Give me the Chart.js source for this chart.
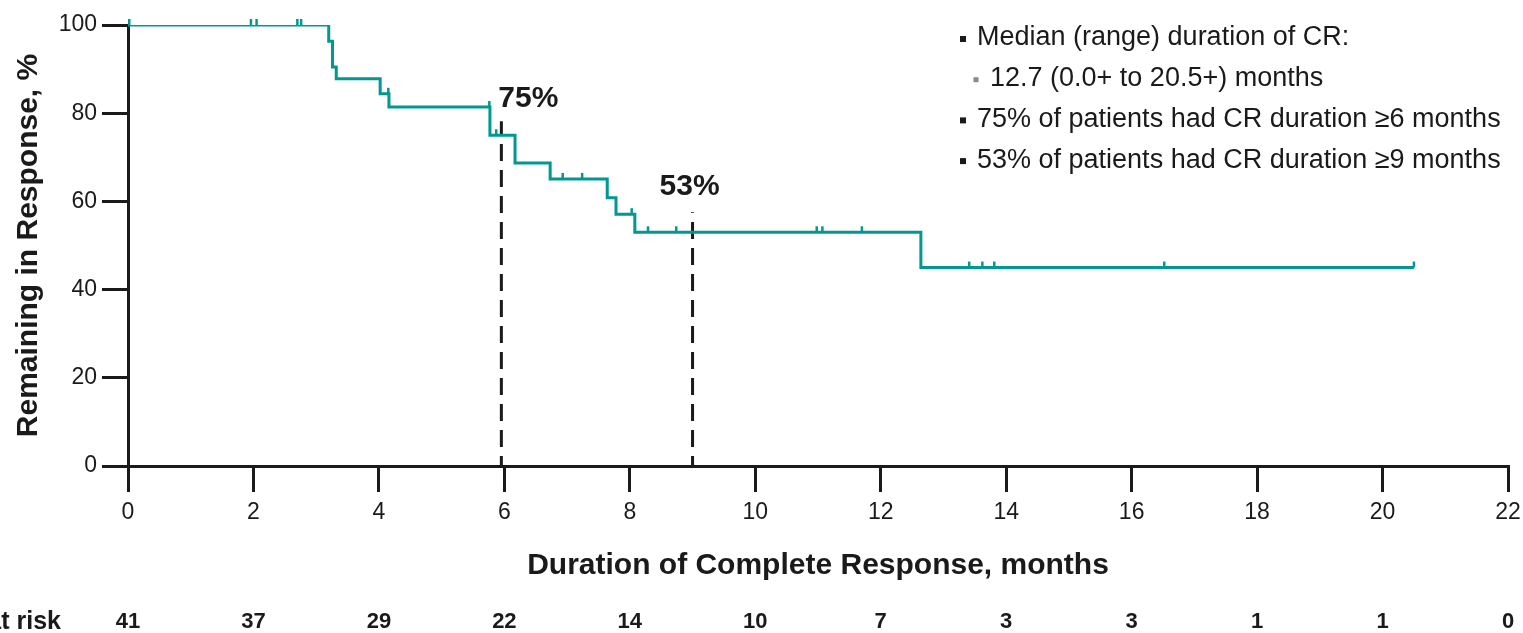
<!DOCTYPE html>
<html>
<head>
<meta charset="utf-8">
<title>Duration of Complete Response</title>
<script src="https://cdn.jsdelivr.net/npm/chart.js@4.4.1/dist/chart.umd.min.js"></script>
<style>
  html, body { margin: 0; padding: 0; background: #ffffff; }
  #km { display: block; }
</style>
</head>
<body>
<canvas id="km" width="1523" height="633"></canvas>
<script>
// Kaplan–Meier curve: time (months) at which the estimate changes, and % still in response
const stepTimes    = [0, 3.20, 3.26, 3.32, 4.02, 4.16, 5.77, 6.17, 6.73, 7.64, 7.78, 8.08, 12.64, 20.5];
const remainingPct = [100, 96.3, 90.5, 87.8, 84.4, 81.4, 75, 68.7, 65.1, 60.8, 57.1, 53, 45, 45];

// Censored observations (months)
const censorTimes = [0.02, 1.96, 2.05, 2.70, 2.76, 4.15, 5.76, 5.87, 6.93, 7.24, 8.03, 8.29, 8.74,
                     10.98, 11.07, 11.70, 13.41, 13.62, 13.81, 16.52, 20.5];

// Axis ticks and the number-at-risk row under each x tick
const xTickValues = [0, 2, 4, 6, 8, 10, 12, 14, 16, 18, 20, 22];
const yTickValues = [0, 20, 40, 60, 80, 100];
const atRisk      = [41, 37, 29, 22, 14, 10, 7, 3, 3, 1, 1, 0];

// Landmark estimates highlighted with dashed drop lines
const milestoneMonths = [6, 9];
const milestonePct    = [75, 53];

// Summary statistics block (second line is a sub-bullet)
const summaryLines  = [
  'Median (range) duration of CR:',
  '12.7 (0.0+ to 20.5+) months',
  '75% of patients had CR duration \u22656 months',
  '53% of patients had CR duration \u22659 months'
];
const summaryIndent = [0, 1, 0, 0];

const FONT = "'Liberation Sans', Arial, Helvetica, sans-serif";
const INK  = '#1a1a1a';
const TEAL = '#009891';

function levelAt(t) {
  let v = remainingPct[0];
  for (let i = 0; i < stepTimes.length; i++) {
    if (stepTimes[i] <= t) v = remainingPct[i];
  }
  return v;
}

// Small upward ticks marking censored patients on the curve
const censorMarks = {
  id: 'censorMarks',
  afterDatasetsDraw(chart, args, opts) {
    const { ctx, scales: { x, y } } = chart;
    ctx.save();
    ctx.strokeStyle = opts.color;
    ctx.lineWidth = opts.width;
    censorTimes.forEach(t => {
      const px = x.getPixelForValue(t);
      const py = y.getPixelForValue(levelAt(t));
      ctx.beginPath();
      ctx.moveTo(px, py);
      ctx.lineTo(px, py - opts.length);
      ctx.stroke();
    });
    ctx.restore();
  }
};

// Dashed vertical lines at the landmark months with their percentage labels
const milestones = {
  id: 'milestones',
  beforeDatasetsDraw(chart, args, opts) {
    const { ctx, scales: { x, y } } = chart;
    ctx.save();
    milestoneMonths.forEach((m, i) => {
      const px = x.getPixelForValue(m) + opts.lineDx[i];
      const pyVal = y.getPixelForValue(milestonePct[i]);
      ctx.strokeStyle = opts.color;
      ctx.lineWidth = opts.width;
      ctx.setLineDash(opts.dash);
      ctx.lineDashOffset = opts.dashOffset;
      ctx.beginPath();
      ctx.moveTo(px, y.getPixelForValue(0));
      ctx.lineTo(px, pyVal + opts.lineTop[i]);
      ctx.stroke();
    });
    ctx.restore();
  },
  afterDatasetsDraw(chart, args, opts) {
    const { ctx, scales: { x, y } } = chart;
    ctx.save();
    ctx.fillStyle = opts.color;
    ctx.font = opts.labelFont;
    ctx.textBaseline = 'middle';
    milestoneMonths.forEach((m, i) => {
      const lab = opts.labels[i];
      ctx.textAlign = lab.align;
      ctx.fillText(milestonePct[i] + '%', x.getPixelForValue(m) + lab.dx, y.getPixelForValue(milestonePct[i]) + lab.dy);
    });
    ctx.restore();
  }
};

// Bulleted summary text in the upper right
const summary = {
  id: 'summary',
  afterDraw(chart, args, opts) {
    const { ctx } = chart;
    ctx.save();
    ctx.font = opts.font;
    ctx.textBaseline = 'middle';
    ctx.textAlign = 'left';
    summaryLines.forEach((line, i) => {
      const yy = opts.top + i * opts.lineGap;
      const ind = summaryIndent[i] * opts.indent;
      ctx.fillStyle = summaryIndent[i] ? opts.subBulletColor : opts.color;
      const b = summaryIndent[i] ? opts.subBulletSize : opts.bulletSize;
      ctx.fillRect(opts.bulletX + ind - b / 2, yy - b / 2 + opts.bulletDy, b, b);
      ctx.fillStyle = opts.color;
      ctx.fillText(line, opts.left + ind, yy);
    });
    ctx.restore();
  }
};

// Number-at-risk row aligned with the x ticks
const riskTable = {
  id: 'riskTable',
  afterDraw(chart, args, opts) {
    const { ctx, scales: { x } } = chart;
    ctx.save();
    ctx.fillStyle = opts.color;
    ctx.textBaseline = 'middle';
    ctx.textAlign = 'right';
    ctx.font = opts.labelFont;
    ctx.fillText(opts.label, opts.labelRight, opts.y);
    ctx.font = opts.font;
    ctx.textAlign = 'center';
    xTickValues.forEach((v, i) => {
      ctx.fillText(String(atRisk[i]), x.getPixelForValue(v), opts.y);
    });
    ctx.restore();
  }
};

const axisGrid = {
  drawOnChartArea: false,
  drawTicks: true,
  tickLength: 26,
  tickWidth: 3,
  tickColor: INK,
  lineWidth: 3,
  color: INK
};

new Chart(document.getElementById('km'), {
  type: 'line',
  data: {
    datasets: [{
      label: 'Remaining in response',
      data: stepTimes.map((t, i) => ({ x: t, y: remainingPct[i] })),
      stepped: 'before',
      borderColor: TEAL,
      borderWidth: 3,
      pointRadius: 0,
      fill: false
    }]
  },
  options: {
    responsive: false,
    devicePixelRatio: 1,
    animation: false,
    events: [],
    layout: { padding: { top: 25, right: 15, bottom: 0, left: 0 } },
    scales: {
      x: {
        type: 'linear',
        min: 0,
        max: 22,
        afterBuildTicks: s => { s.ticks = xTickValues.map(v => ({ value: v })); },
        afterFit: s => { s.height = 167; s.paddingRight = 0; s.paddingLeft = 0; },
        grid: axisGrid,
        border: { display: true, color: INK, width: 3 },
        ticks: {
          font: { family: FONT, size: 23 },
          color: INK,
          padding: 7,
          maxRotation: 0,
          autoSkip: false
        },
        title: {
          display: true,
          text: 'Duration of Complete Response, months',
          font: { family: FONT, size: 30, weight: 'bold' },
          color: INK,
          padding: { top: 0, bottom: 49 }
        }
      },
      y: {
        type: 'linear',
        min: 0,
        max: 100,
        afterBuildTicks: s => { s.ticks = yTickValues.map(v => ({ value: v })); },
        afterFit: s => { s.width = 128; s.paddingTop = 0; s.paddingBottom = 0; },
        grid: axisGrid,
        border: { display: true, color: INK, width: 3 },
        ticks: {
          font: { family: FONT, size: 23 },
          color: INK,
          padding: 5
        },
        title: {
          display: true,
          text: 'Remaining in Response, %',
          font: { family: FONT, size: 30, weight: 'bold' },
          color: INK,
          padding: { top: 11, bottom: 0 }
        }
      }
    },
    plugins: {
      legend: { display: false },
      tooltip: { enabled: false },
      censorMarks: { color: TEAL, width: 2.5, length: 6 },
      milestones: {
        color: INK,
        width: 3,
        dash: [17, 9],
        dashOffset: 7,
        lineDx: [-3, 0],
        lineTop: [-14, -20],
        labelFont: `bold 30px ${FONT}`,
        labels: [
          { dx: -6, dy: -37, align: 'left' },
          { dx: -3, dy: -46, align: 'center' }
        ]
      },
      summary: {
        font: `27px ${FONT}`,
        color: INK,
        subBulletColor: '#8a8a8a',
        left: 977,
        top: 38,
        lineGap: 40.7,
        indent: 13,
        bulletX: 963,
        bulletSize: 6,
        subBulletSize: 5,
        bulletDy: 1
      },
      riskTable: {
        font: `bold 22px ${FONT}`,
        labelFont: `bold 25px ${FONT}`,
        color: INK,
        y: 622,
        label: 'Number at risk',
        labelRight: 61
      }
    }
  },
  plugins: [censorMarks, milestones, summary, riskTable]
});
</script>
</body>
</html>
